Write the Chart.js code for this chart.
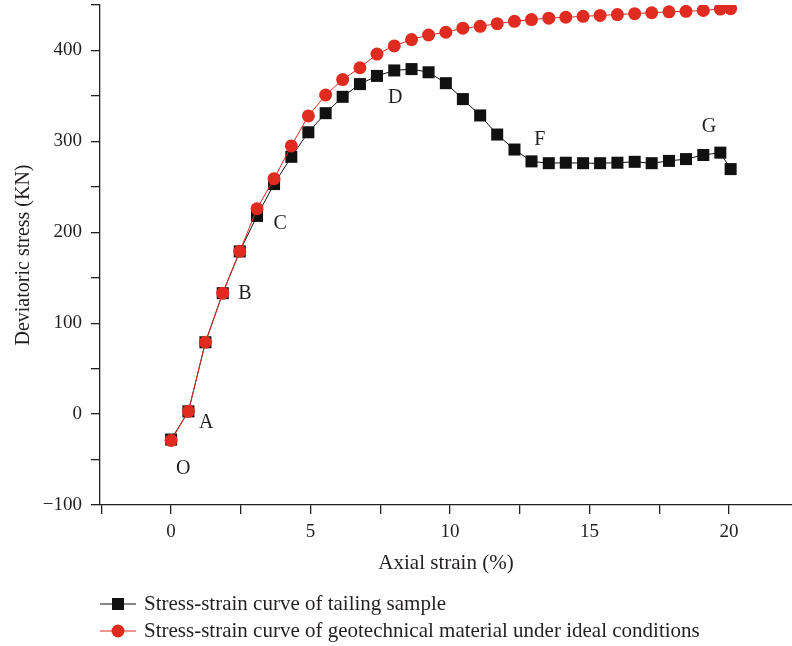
<!DOCTYPE html>
<html>
<head>
<meta charset="utf-8">
<script src="https://cdn.jsdelivr.net/npm/chart.js@4.4.1/dist/chart.umd.min.js"></script>
<style>
  html, body { margin: 0; padding: 0; background: #fff; }
  canvas { display: block; }
</style>
</head>
<body>
<canvas id="chart" width="792" height="646"></canvas>
<script>
// axial strain (%) shared by both curves
const strain = [0, 0.62, 1.23, 1.85, 2.46, 3.08, 3.69, 4.31, 4.92, 5.54, 6.15, 6.77, 7.38, 8.0,
    8.62, 9.23, 9.85, 10.46, 11.08, 11.69, 12.31, 12.92, 13.54, 14.15, 14.77, 15.38, 16.0,
    16.62, 17.23, 17.85, 18.46, 19.08, 19.69, 20.06];

// deviatoric stress (KN)
const tailing = [-28, 3, 79, 133, 179, 218, 253, 283, 310, 331, 349, 363, 372, 378,
    379.5, 376, 364, 346.5, 328.5, 307.5, 291, 278, 276, 276.5, 276, 276, 276.5,
    277.5, 276, 278.5, 280.5, 285, 287.6, 269.5];
const ideal = [-29, 3, 79, 133, 179, 226, 259, 295, 328, 351, 368, 381, 396, 405,
    412, 417, 420, 424.5, 426.5, 429.5, 432, 434, 435.5, 436.5, 437.5, 438.5, 439.5,
    440.5, 441.5, 442.5, 443, 444, 445.5, 446];

const seriesNames = ["Stress-strain curve of tailing sample",
    "Stress-strain curve of geotechnical material under ideal conditions"];

const xTicks = [-2.5, 0, 2.5, 5, 7.5, 10, 12.5, 15, 17.5, 20];
const yTicks = [-100, -50, 0, 50, 100, 150, 200, 250, 300, 350, 400, 450];

// stage letters on the curves (strain, stress)
const stageNames = ["O", "A", "B", "C", "D", "F", "G"];
const stageX = [0.43, 1.26, 2.65, 3.91, 8.03, 13.22, 19.28];
const stageY = [-60, -9, 132, 209, 348, 302, 316];

const ink = '#231f20';
const red = '#e02b20';
const serif = "'Liberation Serif', 'DejaVu Serif', serif";

Chart.defaults.font.family = serif;
Chart.defaults.color = ink;

const toPoints = (ys) => ys.map((y, i) => ({ x: strain[i], y: y }));

// letters O..G
const stagePlugin = {
    id: 'stages',
    afterDatasetsDraw(chart) {
        const { ctx, scales } = chart;
        ctx.save();
        ctx.font = '20px ' + serif;
        ctx.fillStyle = ink;
        ctx.textAlign = 'center';
        ctx.textBaseline = 'middle';
        stageNames.forEach((s, i) => {
            ctx.fillText(s, scales.x.getPixelForValue(stageX[i]), scales.y.getPixelForValue(stageY[i]));
        });
        ctx.restore();
    }
};

// legend under the axis title: line - marker - line, then text
const legendPlugin = {
    id: 'lineLegend',
    afterDraw(chart) {
        const { ctx } = chart;
        const rows = [604, 631];
        ctx.save();
        chart.data.datasets.forEach((ds, i) => {
            const y = rows[i];
            ctx.strokeStyle = ds.borderColor;
            ctx.lineWidth = 1.2;
            ctx.beginPath();
            ctx.moveTo(100, y);
            ctx.lineTo(136, y);
            ctx.stroke();
            ctx.fillStyle = ds.pointBackgroundColor;
            if (ds.pointStyle === 'rect') {
                ctx.fillRect(112, y - 6, 12, 12);
            } else {
                ctx.beginPath();
                ctx.arc(118, y, 6.5, 0, Math.PI * 2);
                ctx.fill();
            }
            ctx.fillStyle = ink;
            ctx.font = '21px ' + serif;
            ctx.textAlign = 'left';
            ctx.textBaseline = 'middle';
            ctx.fillText(ds.label, 144, y);
        });
        ctx.restore();
    }
};

const axisGrid = {
    display: true,
    drawOnChartArea: false,
    drawTicks: true,
    tickLength: 9,
    color: ink,
    lineWidth: 1.3
};

new Chart(document.getElementById('chart'), {
    type: 'line',
    data: {
        datasets: [
            {
                label: seriesNames[0],
                data: toPoints(tailing),
                borderColor: '#111',
                borderWidth: 1,
                pointStyle: 'rect',
                pointRadius: 8.5,
                pointBackgroundColor: '#111',
                pointBorderWidth: 0,
                order: 1
            },
            {
                label: seriesNames[1],
                data: toPoints(ideal),
                borderColor: red,
                borderWidth: 1,
                pointStyle: 'circle',
                pointRadius: 6.5,
                pointBackgroundColor: red,
                pointBorderWidth: 0,
                order: 0
            }
        ]
    },
    options: {
        responsive: false,
        animation: false,
        devicePixelRatio: 1,
        layout: { autoPadding: false, padding: { left: 12, top: 5, right: 0, bottom: 70 } },
        plugins: {
            legend: { display: false },
            tooltip: { enabled: false }
        },
        scales: {
            x: {
                type: 'linear',
                min: -2.55,
                max: 22.26,
                afterBuildTicks: (scale) => { scale.ticks = xTicks.map(v => ({ value: v })); },
                afterFit: (scale) => {
                    scale.height = 71;
                    scale.paddingLeft = 0;
                    scale.paddingRight = 0;
                },
                grid: axisGrid,
                border: { display: true, color: ink, width: 1.3 },
                ticks: {
                    autoSkip: false,
                    maxRotation: 0,
                    padding: 7,
                    font: { size: 19 },
                    color: ink,
                    callback: (v) => (v % 5 === 0 ? String(v) : '')
                },
                title: {
                    display: true,
                    text: 'Axial strain (%)',
                    font: { size: 21 },
                    color: ink,
                    padding: 0
                }
            },
            y: {
                min: -100,
                max: 450,
                afterBuildTicks: (scale) => { scale.ticks = yTicks.map(v => ({ value: v })); },
                afterFit: (scale) => {
                    scale.width = 88;
                    scale.paddingTop = 0;
                    scale.paddingBottom = 0;
                },
                grid: axisGrid,
                border: { display: true, color: ink, width: 1.3 },
                ticks: {
                    autoSkip: false,
                    padding: 9,
                    font: { size: 19 },
                    color: ink,
                    callback: (v) => (v % 100 === 0 ? (v < 0 ? '\u2212' + Math.abs(v) : String(v)) : '')
                },
                title: {
                    display: true,
                    text: 'Deviatoric stress (KN)',
                    font: { size: 20 },
                    color: ink,
                    padding: 0
                }
            }
        }
    },
    plugins: [stagePlugin, legendPlugin]
});
</script>
</body>
</html>
